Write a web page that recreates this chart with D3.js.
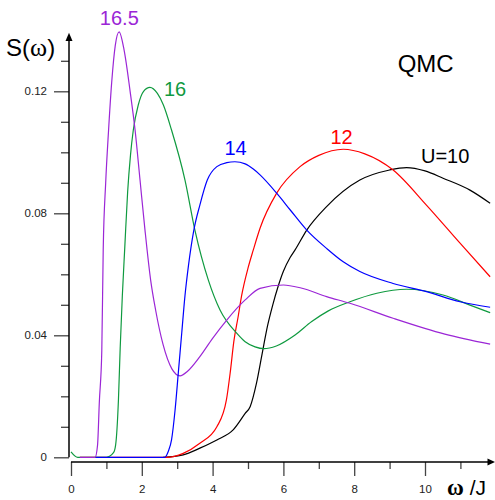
<!DOCTYPE html>
<html>
<head>
<meta charset="utf-8">
<script src="https://cdn.jsdelivr.net/npm/d3@7"></script>
<style>
  body { margin: 0; background: #fff; }
  svg { display: block; font-family: "Liberation Sans", Arial, sans-serif; }
</style>
</head>
<body>
<svg id="chart" width="495" height="500"></svg>
<script>
// S(omega) curves, QMC, for several U values
var w10 = [2.6, 3.17, 3.64, 4.12, 4.58, 4.92, 5.06, 5.24, 5.4, 5.55, 5.7, 5.85, 6.0, 6.19, 6.33, 6.66, 7.22, 8.16, 9.0, 9.48, 10.0, 10.51, 11.27, 11.84];
var s10 = [0, 0.0008, 0.003, 0.0057, 0.009, 0.0144, 0.0166, 0.0243, 0.034, 0.043, 0.05, 0.056, 0.061, 0.0655, 0.068, 0.0745, 0.0822, 0.0909, 0.0942, 0.095, 0.0939, 0.0915, 0.0876, 0.0833];

var w12 = [0.25, 2.7, 3.17, 3.64, 4.12, 4.39, 4.5, 4.6, 4.72, 4.82, 5.0, 5.15, 5.34, 5.81, 6.47, 7.0, 7.69, 8.3, 9.1, 10.04, 10.99, 11.84];
var s12 = [0, 0, 0.0013, 0.0046, 0.01, 0.0188, 0.028, 0.038, 0.046, 0.053, 0.062, 0.068, 0.0751, 0.0866, 0.0953, 0.099, 0.101, 0.0995, 0.0942, 0.0827, 0.0702, 0.0592];

var w14 = [0.7, 2.65, 2.75, 2.84, 2.94, 3.03, 3.13, 3.22, 3.32, 3.47, 3.64, 3.85, 4.12, 4.4, 4.63, 4.92, 5.15, 5.34, 5.81, 6.2, 6.66, 7.22, 7.69, 8.16, 9.1, 10.04, 10.99, 11.84];
var s14 = [0, 0, 0.002, 0.0057, 0.0155, 0.0275, 0.041, 0.053, 0.063, 0.0745, 0.0827, 0.0909, 0.0953, 0.0966, 0.0969, 0.0962, 0.0945, 0.0926, 0.0866, 0.081, 0.0745, 0.0685, 0.0641, 0.0609, 0.057, 0.0543, 0.051, 0.0492];

var w16 = [0, 0.19, 1.0, 1.2, 1.26, 1.34, 1.39, 1.45, 1.52, 1.6, 1.68, 1.76, 1.9, 2.05, 2.23, 2.44, 2.61, 2.84, 3.22, 3.5, 3.88, 4.21, 4.68, 4.92, 5.2, 5.45, 5.8, 6.33, 6.8, 7.27, 7.88, 8.64, 9.48, 10.51, 11.27, 11.84];
var s16 = [0.0018, 0, 0, 0.0015, 0.004, 0.0188, 0.036, 0.053, 0.069, 0.087, 0.099, 0.1073, 0.1155, 0.12, 0.1213, 0.1193, 0.1155, 0.1073, 0.0909, 0.0745, 0.0581, 0.0483, 0.0407, 0.0379, 0.0362, 0.0356, 0.0365, 0.0401, 0.0445, 0.048, 0.051, 0.0538, 0.0551, 0.0532, 0.0499, 0.0474];

var w165 = [0.25, 0.68, 0.75, 0.8, 0.87, 0.91, 0.98, 1.06, 1.15, 1.25, 1.36, 1.5, 1.67, 1.81, 1.95, 2.09, 2.25, 2.39, 2.6, 2.85, 3.08, 3.3, 3.64, 4.0, 4.4, 4.92, 5.34, 6.0, 6.5, 7.22, 7.88, 9.1, 10.56, 11.84];
var s165 = [0, 0, 0.004, 0.018, 0.035, 0.068, 0.09, 0.107, 0.123, 0.135, 0.1395, 0.1335, 0.12, 0.1073, 0.0909, 0.0745, 0.0581, 0.0483, 0.037, 0.029, 0.0267, 0.0283, 0.033, 0.039, 0.045, 0.0516, 0.0554, 0.0565, 0.0555, 0.0527, 0.0505, 0.0456, 0.0404, 0.0371];

var xMajor = [0, 2, 4, 6, 8, 10];
var xMinor = [1, 3, 5, 7, 9, 11];
var yMajor = [0, 0.04, 0.08, 0.12];
var yMinor = [0.01, 0.02, 0.03, 0.05, 0.06, 0.07, 0.09, 0.10, 0.11, 0.13];

var series = [
    { name: "U=10", w: w10, s: s10, color: "#000000" },
    { name: "12", w: w12, s: s12, color: "#ff0000" },
    { name: "16", w: w16, s: s16, color: "#0f9a3f" },
    { name: "16.5", w: w165, s: s165, color: "#9b26d6" },
    { name: "14", w: w14, s: s14, color: "#0000ff" }
];

var svg = d3.select("#chart");

var x = d3.scaleLinear().domain([0, 10]).range([71, 425]);
var y = d3.scaleLinear().domain([0, 0.12]).range([457.3, 91.3]);

var yAxisX = 69;
var xAxisY = 462;

// y 축
svg.append("g")
    .attr("transform", "translate(" + yAxisX + ",0)")
    .call(d3.axisLeft(y).tickValues(yMinor).tickSize(8).tickFormat(""))
    .call(function(g) { g.select(".domain").remove(); });

svg.append("g")
    .attr("class", "y-major")
    .attr("transform", "translate(" + yAxisX + ",0)")
    .call(d3.axisLeft(y).tickValues(yMajor).tickSize(15).tickPadding(7)
        .tickFormat(function(d) { return d === 0 ? "0" : d3.format(".2f")(d); }))
    .call(function(g) { g.select(".domain").remove(); });

svg.append("line")
    .attr("x1", yAxisX).attr("x2", yAxisX)
    .attr("y1", y(0)).attr("y2", y(0.138))
    .attr("stroke", "#000").attr("stroke-width", 1.5);

svg.append("path")
    .attr("d", "M" + yAxisX + "," + 32.7 + "L" + (yAxisX - 3.5) + "," + 41 + "L" + (yAxisX + 3.5) + "," + 41 + "Z")
    .attr("fill", "#000");

// x 축
svg.append("g")
    .attr("transform", "translate(0," + xAxisY + ")")
    .call(d3.axisBottom(x).tickValues(xMinor).tickSize(7).tickFormat(""))
    .call(function(g) { g.select(".domain").remove(); });

svg.append("g")
    .attr("class", "x-major")
    .attr("transform", "translate(0," + xAxisY + ")")
    .call(d3.axisBottom(x).tickValues(xMajor).tickSize(14).tickPadding(9).tickFormat(d3.format("d")))
    .call(function(g) { g.select(".domain").remove(); });

svg.append("line")
    .attr("x1", x(0)).attr("x2", 488)
    .attr("y1", xAxisY).attr("y2", xAxisY)
    .attr("stroke", "#000").attr("stroke-width", 1.5);

svg.append("path")
    .attr("d", "M495," + xAxisY + "L487.5," + (xAxisY - 3.5) + "L487.5," + (xAxisY + 3.5) + "Z")
    .attr("fill", "#000");

svg.selectAll(".tick line").attr("stroke", "#444").attr("stroke-width", 1.3);
svg.selectAll(".tick text")
    .style("font-size", "11.5px")
    .style("font-family", "Liberation Sans, Arial, sans-serif")
    .attr("fill", "#222");

// 곡선
var line = d3.line()
    .x(function(d) { return x(d[0]); })
    .y(function(d) { return y(d[1]); })
    .curve(d3.curveMonotoneX);

series.forEach(function(sr) {
    var pts = sr.w.map(function(v, i) { return [v, sr.s[i]]; });
    svg.append("path")
        .datum(pts)
        .attr("fill", "none")
        .attr("stroke", sr.color)
        .attr("stroke-width", 1.2)
        .attr("d", line);
});

// 라벨
var labels = [
    { text: "16.5", x: 119.3, y: 25, anchor: "middle", color: "#9b26d6" },
    { text: "16", x: 164, y: 95.7, anchor: "start", color: "#0f9a3f" },
    { text: "14", x: 235.5, y: 155, anchor: "middle", color: "#0000ff" },
    { text: "12", x: 341.5, y: 144.3, anchor: "middle", color: "#ff0000" },
    { text: "U=10", x: 421, y: 163.3, anchor: "start", color: "#000" }
];

svg.selectAll(".series-label")
    .data(labels)
    .enter().append("text")
    .attr("class", "series-label")
    .attr("x", function(d) { return d.x; })
    .attr("y", function(d) { return d.y; })
    .attr("text-anchor", function(d) { return d.anchor; })
    .attr("fill", function(d) { return d.color; })
    .style("font-size", "20px")
    .text(function(d) { return d.text; });

svg.append("text")
    .attr("x", 397.7).attr("y", 71.7)
    .style("font-size", "24px")
    .text("QMC");

var sLabel = svg.append("text")
    .attr("x", 6).attr("y", 56)
    .style("font-size", "24px");
sLabel.append("tspan").text("S(");
sLabel.append("tspan").style("font-family", "Liberation Serif, serif").style("font-size", "26px").text("ω");
sLabel.append("tspan").text(")");

var wLabel = svg.append("text")
    .attr("x", 447).attr("y", 495)
    .style("font-size", "21px");
wLabel.append("tspan").style("font-family", "Liberation Serif, serif").style("font-weight", "bold").style("font-size", "23px").text("ω");
wLabel.append("tspan").text(" /J");
</script>
</body>
</html>
